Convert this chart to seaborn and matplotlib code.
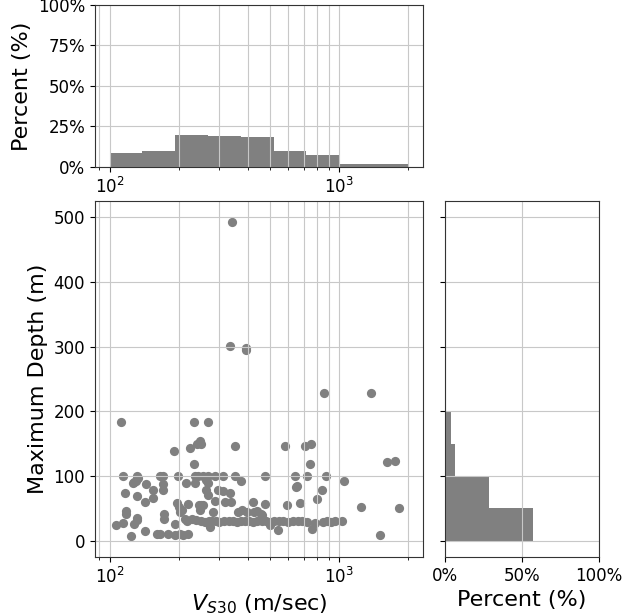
import numpy as np
import matplotlib
matplotlib.use("Agg")
import matplotlib.pyplot as plt
from matplotlib.ticker import PercentFormatter
import seaborn as sns

# Site measurements: time-averaged shear-wave velocity and maximum profile depth
vs30 = [341, 333, 394, 394, 861, 1384,
        112, 232, 267,
        190, 224, 240, 248, 249, 351, 578, 713, 755,
        233, 745, 1625, 1755,
        114, 131, 165, 170, 199, 235, 243, 255, 268, 287, 312, 352, 476, 642, 721, 881,
        126, 130, 128, 133, 144, 171, 216, 235, 264, 268, 375, 1048,
        155, 171, 264, 296, 312, 333, 116, 648, 655, 843,
        132, 142, 155, 197, 220, 249, 268, 287, 317, 337, 421, 474, 590, 675, 802, 255, 245,
        118, 118, 173, 173, 200, 203, 207, 247, 283, 1250, 1820, 362, 376, 395, 425, 440, 455, 460,
        106, 114, 128, 132, 132, 192, 213, 218, 228, 238,
        250, 260, 270, 280, 290, 300, 315, 330, 345, 360, 375, 390, 405, 420, 440, 460,
        480, 500, 520, 545, 570, 600, 630, 660, 690, 728, 782, 850, 885, 920, 956, 1032,
        273, 499, 541, 760,
        124, 142, 160, 165, 180, 192, 202, 209, 220, 1515]
depth = [492, 301, 298, 294, 229, 229,
         184, 184, 184,
         139, 144, 150, 154, 150, 147, 147, 147, 149,
         119, 119, 121, 123,
         100, 100, 100, 100, 100, 100, 100, 100, 100, 100, 100, 100, 100, 100, 100, 100,
         89, 93, 91, 97, 87, 87, 89, 89, 94, 89, 93, 92,
         79, 79, 79, 79, 77, 74, 74, 83, 85, 78,
         69, 60, 66, 59, 57, 55, 70, 61, 60, 60, 60, 57, 55, 59, 64, 55, 55,
         46, 42, 42, 34, 52, 45, 48, 47, 44, 53, 50, 45, 47, 45, 44, 46, 42, 40,
         24, 27, 26, 36, 32, 26, 33, 31, 34, 32,
         30, 29, 30, 31, 30, 29, 30, 31, 30, 29, 30, 31, 30, 29, 30, 31,
         30, 29, 30, 31, 30, 29, 30, 31, 30, 29, 28, 29, 31, 29, 30, 31,
         22, 24, 16, 19,
         7, 15, 10, 10, 10, 9, 10, 9, 11, 9]

# Marginal distributions (percent of sites per bin)
vs30_bin_edges = [100, 138.9, 193.1, 268.3, 372.8, 517.9, 719.7, 1000, 2000]
vs30_percent = [8.9, 9.7, 20.0, 19.2, 18.4, 10.1, 7.4, 1.9]
depth_bin_edges = [0, 50, 100, 150, 200, 250, 300, 350, 400, 450, 500]
depth_percent = [57.3, 28.6, 6.3, 3.9, 0.6, 0.6, 0.3, 0.0, 0.0, 0.3]

bar_color = "#808080"
grid_kw = dict(color="#c8c8c8", linewidth=0.8)

fig = plt.figure(figsize=(6.24, 6.15), dpi=100)
ax_main = fig.add_axes([0.152, 0.0943, 0.526, 0.579])
ax_top = fig.add_axes([0.152, 0.7285, 0.526, 0.2634], sharex=ax_main)
ax_right = fig.add_axes([0.713, 0.0943, 0.247, 0.579], sharey=ax_main)

ax_main.set_xscale("log")

# Joint scatter
sns.scatterplot(x=vs30, y=depth, ax=ax_main, color=bar_color, s=44,
                linewidth=0, alpha=1)

# Top marginal: VS30 distribution on log bins
vs_edges = np.array(vs30_bin_edges)
vs_centers = np.sqrt(vs_edges[:-1] * vs_edges[1:])
sns.histplot(x=list(vs_centers), weights=list(vs30_percent),
             bins=[float(b) for b in np.log10(vs_edges)],
             log_scale=True, ax=ax_top, color=bar_color, alpha=1,
             linewidth=0)

# Right marginal: depth distribution
d_edges = np.array(depth_bin_edges, dtype=float)
d_centers = 0.5 * (d_edges[:-1] + d_edges[1:])
sns.histplot(y=list(d_centers), weights=list(depth_percent),
             bins=[float(b) for b in d_edges], ax=ax_right,
             color=bar_color, alpha=1, linewidth=0)

label_fs = 16
tick_fs = 12

ax_main.set_xlabel(r"$V_{S30}$ (m/sec)", fontsize=label_fs)
ax_main.set_ylabel("Maximum Depth (m)", fontsize=label_fs)
ax_main.set_yticks([0, 100, 200, 300, 400, 500])
ax_main.grid(True, which="both", axis="x", **grid_kw)
ax_main.grid(True, which="major", axis="y", **grid_kw)

ax_top.set_ylim(0, 100)
ax_top.set_yticks([0, 25, 50, 75, 100])
ax_top.yaxis.set_major_formatter(PercentFormatter(xmax=100, decimals=0))
ax_top.set_ylabel("Percent (%)", fontsize=label_fs)
ax_top.set_xlabel("")
ax_top.tick_params(labelbottom=True)
ax_top.grid(True, which="both", axis="x", **grid_kw)
ax_top.grid(True, which="major", axis="y", **grid_kw)

ax_right.set_xlim(0, 100)
ax_right.set_xticks([0, 50, 100])
ax_right.xaxis.set_major_formatter(PercentFormatter(xmax=100, decimals=0))
ax_right.set_xlabel("Percent (%)", fontsize=label_fs)
ax_right.set_ylabel("")
ax_right.tick_params(labelleft=False)
ax_right.grid(True, which="major", **grid_kw)

for ax in (ax_main, ax_top, ax_right):
    ax.tick_params(labelsize=tick_fs)
    for sp in ax.spines.values():
        sp.set_edgecolor("#333333")

fig.savefig("out.png", dpi=100)
